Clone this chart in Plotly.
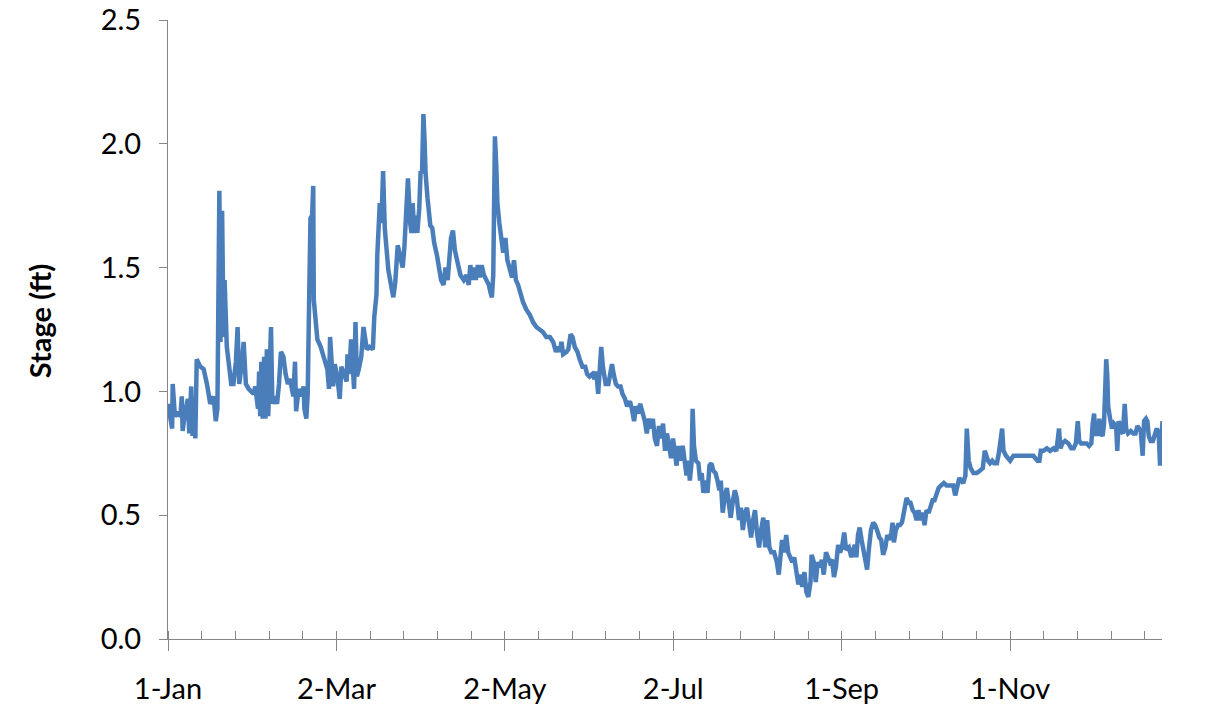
import pandas as pd
import plotly.graph_objects as go

# day offsets from 1-Jan and stage in ft
days = [
    0.0, 0.8, 1.5, 1.7, 2.5, 3.5, 4.5, 5.0, 5.3, 6.0, 7.2, 7.7, 8.4, 8.9, 9.3, 9.9,
    10.4, 11.7, 12.9, 14.1, 15.3, 16.5, 17.3, 17.9, 18.3, 18.6, 19.0, 19.6, 20.1, 20.5,
    21.3, 21.9, 22.9, 23.7, 24.6, 25.2, 25.8, 26.8, 27.4, 28.2, 29.2, 31.0, 31.6, 32.6,
    33.0, 33.4, 33.8, 34.3, 34.8, 35.3, 35.8, 36.3, 36.8, 37.3, 37.8, 38.7, 39.5, 40.2,
    40.9, 41.8, 42.6, 43.4, 44.2, 44.8, 45.4, 46.0, 46.4, 47.3, 48.2, 49.1, 49.4, 50.1,
    50.6, 51.2, 51.6, 52.2, 52.6, 52.8, 53.5, 54.1, 55.3, 56.5, 57.7, 58.3, 58.7,
    59.8, 60.4, 61.3, 62.2, 62.8, 63.8, 64.7, 65.0, 65.7, 66.3, 66.9, 67.4, 67.9, 68.4,
    69.1, 70.0, 70.8, 71.4, 72.0, 73.0, 74.2, 74.7, 75.5, 75.8, 76.2, 76.7, 77.3, 77.9,
    78.5, 79.2, 79.8, 80.6, 81.6, 82.3, 83.2, 83.8, 84.4, 85.0, 85.6, 86.2, 86.9, 87.7,
    88.2, 88.6, 89.2, 89.8, 90.3, 91.0, 91.5, 92.0, 92.5, 92.9, 93.3, 94.0, 95.0, 95.7,
    96.4, 97.4, 98.1, 98.9, 99.8, 100.5, 101.3, 102.0, 102.5, 103.2, 103.9, 104.9, 105.9,
    107.1, 108.1, 108.9, 109.5, 110.1, 110.7, 111.5, 112.2, 112.9, 113.6, 114.4, 115.3,
    116.2, 116.8, 117.3, 117.8, 118.0, 118.4, 118.9, 119.3, 120.0, 120.7, 121.4, 122.2,
    122.9, 123.9, 124.6, 125.3, 126.0, 126.8, 127.6, 128.6, 129.8, 131.0, 132.2, 133.4,
    134.6, 135.8, 137.0, 138.3, 139.5, 140.5, 141.3, 141.9, 142.5, 143.1, 144.3, 145.0,
    145.8, 146.5, 147.3, 148.3, 149.1, 150.1, 151.1, 151.8, 152.7, 153.7, 154.5, 155.1,
    155.8, 156.3, 156.9, 157.5, 158.5, 159.5, 160.2, 160.8, 161.4, 162.2, 163.0, 163.9,
    164.6, 165.5, 166.3, 167.3, 168.0, 168.8, 169.5, 170.3, 171.0, 172.0, 172.7, 173.4,
    174.2, 174.9, 175.6, 176.3, 177.1, 177.8, 178.5, 179.3, 180.0, 180.7, 181.4, 182.2,
    182.9, 183.6, 184.2, 184.8, 185.7, 186.4, 187.1, 187.8, 188.4, 189.0, 189.6, 190.0,
    190.5, 191.2, 192.1, 192.7, 193.3, 193.9, 194.6, 195.4, 196.1, 196.8, 197.5, 198.3,
    199.0, 199.7, 200.2, 200.9, 201.6, 202.4, 203.1, 203.8, 204.6, 205.3, 206.0, 206.8,
    207.5, 208.2, 209.0, 209.7, 210.4, 211.2, 211.9, 212.6, 213.4, 214.1, 214.8, 215.6,
    216.3, 217.0, 217.8, 218.5, 219.5, 220.5, 221.2, 221.9, 222.4, 223.2, 223.9, 224.6,
    225.3, 226.1, 226.8, 227.5, 228.3, 229.0, 229.7, 230.5, 231.2, 231.9, 232.7, 233.1,
    233.9, 234.6, 235.3, 236.1, 236.8, 237.5, 238.3, 239.0, 239.7, 240.5, 241.2, 241.9,
    242.7, 243.4, 244.1, 244.9, 245.6, 246.6, 247.5, 248.7, 249.3, 249.9, 250.5, 251.2,
    252.0, 252.7, 253.2, 253.9, 254.6, 255.4, 256.1, 256.8, 257.6, 258.3, 259.0, 259.8,
    260.5, 261.2, 262.0, 262.4, 262.9, 263.6, 264.4, 265.1, 265.8, 266.5, 267.0, 267.5,
    268.2, 268.9, 269.7, 270.4, 271.1, 271.8, 272.6, 273.3, 274.0, 274.7, 275.5, 276.2,
    276.9, 277.6, 278.4, 279.1, 280.0, 281.0, 282.0, 283.2, 284.4, 285.1, 285.8, 286.6,
    287.3, 288.0, 288.8, 289.3, 290.0, 290.7, 291.7, 292.9, 294.1, 295.1, 295.8, 296.3,
    297.0, 297.7, 298.5, 299.2, 300.2, 300.9, 301.7, 302.1, 302.6, 303.5, 305.0, 306.2,
    308.6, 311.0, 313.4, 314.9, 315.6, 316.1, 317.1, 318.3, 319.5, 320.7, 321.7, 322.2,
    322.7, 323.2, 323.9, 324.9, 326.1, 327.1, 328.0, 328.8, 329.5, 330.0, 330.7, 331.7,
    332.7, 333.6, 334.4, 334.9, 335.4, 335.9, 336.3, 336.8, 337.3, 337.8, 338.5, 339.0,
    339.4, 339.8, 340.2, 340.5, 341.2, 341.9, 342.6, 343.4, 343.8, 344.3, 345.1, 345.8,
    346.5, 347.0, 347.7, 348.7, 349.6, 350.4, 351.1, 351.8, 352.3, 353.0, 353.5, 354.2,
    354.7, 355.2, 355.9, 356.7, 357.4, 358.1, 358.8, 359.3, 359.8, 360.2, 360.4,
]
stage = [
    0.95, 0.90, 0.85, 1.03, 0.90, 0.91, 0.90, 0.98, 0.84, 0.90, 0.97, 0.83, 1.02, 0.82, 0.90, 0.81,
    1.13, 1.10, 1.09, 1.03, 0.95, 0.98, 0.88, 0.93, 1.41, 1.81, 1.20, 1.73, 1.22, 1.45,
    1.18, 1.13, 1.03, 1.03, 1.12, 1.26, 1.03, 1.12, 1.20, 1.03, 1.01, 0.99, 1.02, 0.93,
    1.08, 0.90, 1.12, 0.89, 1.14, 0.89, 1.17, 0.90, 1.16, 1.26, 0.95, 0.98, 0.95, 1.03,
    1.16, 1.14, 1.07, 1.03, 1.05, 1.01, 0.98, 1.12, 0.92, 1.01, 0.98, 1.02, 0.93, 0.89,
    0.99, 1.43, 1.70, 1.71, 1.83, 1.37, 1.30, 1.21, 1.18, 1.14, 1.09, 1.01, 1.22,
    1.02, 1.11, 1.06, 0.97, 1.10, 1.06, 1.04, 1.15, 1.07, 1.21, 1.06, 1.01, 1.28, 1.06,
    1.09, 1.14, 1.26, 1.20, 1.17, 1.18, 1.17, 1.30, 1.39, 1.55, 1.72, 1.76, 1.68, 1.89,
    1.66, 1.57, 1.49, 1.44, 1.38, 1.44, 1.59, 1.56, 1.52, 1.50, 1.58, 1.71, 1.86, 1.68,
    1.64, 1.76, 1.64, 1.71, 1.64, 1.74, 1.89, 1.88, 2.12, 2.02, 1.88, 1.78, 1.67, 1.66,
    1.60, 1.55, 1.49, 1.45, 1.43, 1.50, 1.45, 1.55, 1.62, 1.65, 1.57, 1.52, 1.47,
    1.45, 1.47, 1.43, 1.51, 1.45, 1.50, 1.45, 1.51, 1.46, 1.51, 1.47, 1.45,
    1.43, 1.40, 1.38, 1.47, 1.82, 2.03, 1.91, 1.76, 1.68, 1.62, 1.56, 1.62,
    1.53, 1.49, 1.46, 1.53, 1.45, 1.43, 1.39, 1.36, 1.33, 1.31, 1.28, 1.26,
    1.25, 1.24, 1.22, 1.22, 1.20, 1.16, 1.18, 1.16, 1.20, 1.15, 1.16, 1.17,
    1.23, 1.22, 1.18, 1.16, 1.13, 1.10, 1.10, 1.07, 1.06, 1.07, 1.05, 1.08,
    0.99, 1.07, 1.18, 1.10, 1.03, 1.03, 1.07, 1.11, 1.07, 1.03, 1.02, 1.02,
    0.99, 0.97, 0.94, 0.96, 0.93, 0.88, 0.94, 0.91, 0.95, 0.91, 0.88, 0.83,
    0.89, 0.85, 0.89, 0.81, 0.78, 0.86, 0.81, 0.87, 0.76, 0.83, 0.78, 0.73,
    0.81, 0.76, 0.70, 0.78, 0.72, 0.78, 0.70, 0.66, 0.72, 0.64, 0.71, 0.93,
    0.78, 0.72, 0.71, 0.64, 0.67, 0.59, 0.64, 0.59, 0.70, 0.71, 0.68, 0.67,
    0.64, 0.60, 0.64, 0.51, 0.57, 0.61, 0.55, 0.49, 0.56, 0.60, 0.57, 0.48,
    0.53, 0.44, 0.51, 0.53, 0.47, 0.41, 0.48, 0.52, 0.42, 0.37, 0.44, 0.49,
    0.37, 0.48, 0.37, 0.35, 0.35, 0.31, 0.26, 0.37, 0.40, 0.35, 0.42, 0.35,
    0.33, 0.31, 0.33, 0.26, 0.22, 0.26, 0.21, 0.27, 0.19, 0.17, 0.23, 0.34,
    0.31, 0.23, 0.31, 0.29, 0.32, 0.26, 0.35, 0.33, 0.31, 0.32, 0.25, 0.29,
    0.38, 0.35, 0.37, 0.43, 0.36, 0.37, 0.33, 0.38, 0.33, 0.42, 0.45, 0.40,
    0.34, 0.29, 0.28, 0.37, 0.44, 0.47, 0.46, 0.44, 0.41, 0.40, 0.34, 0.37,
    0.42, 0.40, 0.43, 0.47, 0.39, 0.44, 0.46, 0.46, 0.47, 0.51, 0.55, 0.57,
    0.55, 0.55, 0.52, 0.51, 0.48, 0.52, 0.48, 0.51, 0.46, 0.52, 0.51, 0.53,
    0.56, 0.56, 0.59, 0.61, 0.62, 0.63, 0.62, 0.62, 0.62, 0.58, 0.61, 0.65,
    0.64, 0.63, 0.66, 0.85, 0.72, 0.69, 0.67, 0.67, 0.68, 0.69, 0.76, 0.74,
    0.72, 0.71, 0.72, 0.71, 0.71, 0.75, 0.80, 0.85, 0.76, 0.74, 0.72, 0.74,
    0.74, 0.74, 0.74, 0.72, 0.72, 0.76, 0.76, 0.77, 0.76, 0.77, 0.76, 0.80,
    0.85, 0.77, 0.79, 0.80, 0.79, 0.77, 0.77, 0.79, 0.88, 0.80, 0.79, 0.79,
    0.79, 0.78, 0.79, 0.87, 0.91, 0.82, 0.88, 0.82, 0.89, 0.83, 0.82, 0.87,
    1.07, 1.13, 1.06, 0.94, 0.89, 0.85, 0.87, 0.86, 0.76, 0.88, 0.84, 0.83,
    0.95, 0.85, 0.83, 0.84, 0.83, 0.83, 0.86, 0.85, 0.84, 0.74, 0.88, 0.89,
    0.88, 0.82, 0.80, 0.80, 0.83, 0.85, 0.83, 0.70, 0.81, 0.88, 0.77,
]

start_date = "2012-01-01"
end_date = "2012-12-26"
tick_dates = ["2012-01-01", "2012-03-02", "2012-05-02", "2012-07-02", "2012-09-01", "2012-11-01"]
tick_labels = ["1-Jan", "2-Mar", "2-May", "2-Jul", "1-Sep", "1-Nov"]

dates = pd.Timestamp(start_date) + pd.to_timedelta(days, unit="D")

axis_grey = "#868686"
font_family = "Lato, Calibri, sans-serif"

fig = go.Figure(
    go.Scatter(
        x=dates,
        y=stage,
        mode="lines",
        line=dict(color="#4a7ebb", width=4.5),
        showlegend=False,
    )
)

# the page body adds an 8px offset, so the figure is 8px smaller than the window
fig.update_layout(
    width=1214,
    height=697,
    margin=dict(l=160, r=60, t=12, b=66),
    plot_bgcolor="white",
    paper_bgcolor="white",
    font=dict(family=font_family, color="black"),
    xaxis=dict(
        type="date",
        range=[start_date, end_date],
        tickmode="array",
        tickvals=tick_dates,
        ticktext=tick_labels,
        ticks="outside",
        ticklen=11,
        tickcolor=axis_grey,
        tickfont=dict(size=29),
        ticklabelstandoff=13,
        showline=True,
        linecolor=axis_grey,
        showgrid=False,
        zeroline=False,
        automargin=False,
        minor=dict(
            ticks="inside",
            ticklen=8,
            tickcolor=axis_grey,
            tick0=start_date,
            dtick=12.2 * 86400000,  # 61 days / 5
            showgrid=False,
        ),
    ),
    yaxis=dict(
        range=[0, 2.5],
        dtick=0.5,
        tickformat=".1f",
        ticks="outside",
        ticklen=8,
        tickcolor=axis_grey,
        tickfont=dict(size=29),
        ticklabelstandoff=12,
        ticklabeloverflow="allow",
        showline=True,
        linecolor=axis_grey,
        showgrid=False,
        zeroline=False,
        automargin=False,
    ),
    annotations=[
        dict(
            text="<b>Stage (ft)</b>",
            textangle=-90,
            xref="paper",
            yref="paper",
            x=-0.129,
            y=0.513,
            xanchor="center",
            yanchor="middle",
            showarrow=False,
            font=dict(size=29),
        )
    ],
)

fig.write_html("out.html")
